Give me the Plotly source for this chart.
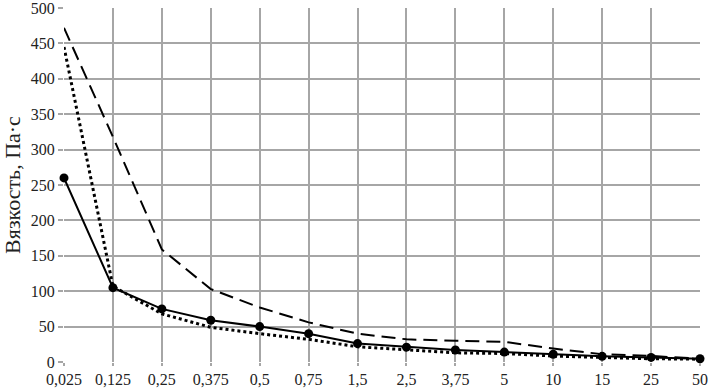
import plotly.graph_objects as go

categories = ["0,025", "0,125", "0,25", "0,375", "0,5", "0,75", "1,5", "2,5",
              "3,75", "5", "10", "15", "25", "50"]
solid_vals = [260, 105, 75, 59, 50, 40, 26, 21, 17, 14, 11, 8, 6.5, 4.6]
dashed_vals = [472, 318, 159, 103, 77, 56, 40, 32, 30, 28.5, 19, 11, 8.5, 4.6]
dotted_vals = [445, 107, 68, 49, 40, 32, 21.5, 17, 13, 12, 8.4, 6.5, 4.6, 4]
y_ticks = [0, 50, 100, 150, 200, 250, 300, 350, 400, 450, 500]

fig = go.Figure()
fig.add_trace(go.Scatter(x=categories, y=dashed_vals, mode="lines",
                         line=dict(color="black", width=2, dash="14px,7px"),
                         cliponaxis=False, showlegend=False))
fig.add_trace(go.Scatter(x=categories, y=dotted_vals, mode="lines",
                         line=dict(color="black", width=3, dash="dot"),
                         cliponaxis=False, showlegend=False))
fig.add_trace(go.Scatter(x=categories, y=solid_vals, mode="lines+markers",
                         line=dict(color="black", width=2),
                         marker=dict(color="black", size=9, symbol="circle"),
                         cliponaxis=False, showlegend=False))

font = dict(family="Liberation Serif", size=16, color="#222222")
fig.update_layout(
    width=709, height=388,
    margin=dict(l=64, r=9, t=8, b=26),
    paper_bgcolor="white", plot_bgcolor="white",
    font=font,
    xaxis=dict(type="category", range=[0, 13], showgrid=True, automargin=False,
               gridcolor="#a6a6a6", gridwidth=1.5,
               ticks="outside", ticklen=3, tickcolor="#a6a6a6", tickwidth=1.5,
               ticklabeloverflow="allow",
               showline=False, zeroline=False, tickfont=font),
    yaxis=dict(range=[0, 500], tickvals=y_ticks, showgrid=True, automargin=False,
               gridcolor="#a6a6a6", gridwidth=1.5,
               ticks="outside", ticklen=5, tickcolor="#a6a6a6", tickwidth=1.5,
               ticklabeloverflow="allow",
               showline=False, zeroline=False, tickfont=font,
               title=dict(text="Вязкость, Па·с", standoff=14,
                          font=dict(family="Liberation Serif", size=22, color="#222222"))),
)
fig.write_html("out.html", config={"displayModeBar": False},
               post_script="document.body.style.margin='0';")
